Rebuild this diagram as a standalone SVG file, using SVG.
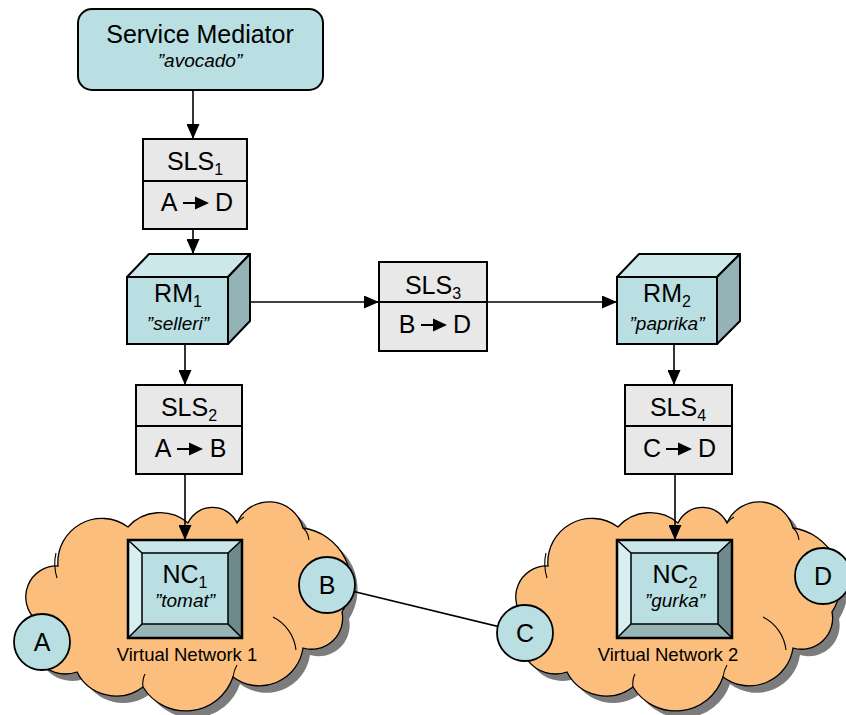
<svg xmlns="http://www.w3.org/2000/svg" width="846" height="715" viewBox="0 0 846 715">
<style>
text{font-family:"Liberation Sans",Arial,sans-serif;fill:#000}
.lbl{font-size:25px;text-anchor:middle}
.nm{font-size:19px;font-style:italic;text-anchor:middle}
.sub{font-size:16px}
.vn{font-size:18.5px;text-anchor:middle}
.box{fill:#e8e8e8;stroke:#000;stroke-width:2}
.cy{fill:#b9dfe2;stroke:#000;stroke-width:2}
.ctop{fill:#cce8eb;stroke:#000;stroke-width:2;stroke-linejoin:round}
.cside{fill:#93b3b6;stroke:#000;stroke-width:2;stroke-linejoin:round}
.conn{stroke:#000;stroke-width:1.6;fill:none}
.cloud{fill:#fbbe7d;stroke:#000;stroke-width:1.3}
.shadow{fill:#7c7c7c}
.crease{fill:none;stroke:#000;stroke-width:1.1}
.circ{fill:#b9dfe2;stroke:#000;stroke-width:1.8}
</style>
<defs>
<marker id="ah" viewBox="0 0 15 13" markerWidth="15" markerHeight="13" markerUnits="userSpaceOnUse" refX="15" refY="6.5" orient="auto">
<path d="M0,0 L15,6.5 L0,13 Z" fill="#000"/>
</marker>
<g id="sarrow"><line x1="-12" y1="0" x2="1" y2="0" stroke="#000" stroke-width="2"/><polygon points="0,-6.5 14,0 0,6.5" fill="#000"/></g>
<path id="cloudshape" d="M36,620 A31,31 0 0 1 58,566 A44,44 0 0 1 128,527 A43,43 0 0 1 188,523 A27,27 0 0 1 237,523 A35,35 0 0 1 303,528 A55,55 0 0 1 342,612 A31,31 0 0 1 303,648 A44,44 0 0 1 233,677 A50,50 0 0 1 143,687 A44,44 0 0 1 77,672 A35,35 0 0 1 36,620 Z"/>
<g id="creases">
<path d="M273,617 A42,42 0 0 1 296,650"/>
<path d="M56,553 Q53,565 57,578"/>
<path d="M303,528 Q308,532 309,540"/>
<path d="M233,677 Q234,670 237,665"/>
<path d="M143,687 Q142,680 145,674"/>
<path d="M237,523 Q240,519 244,517"/>
</g>
</defs>

<g id="cloud1">
<use href="#cloudshape" class="shadow" transform="translate(7,7)"/>
<use href="#cloudshape" class="cloud"/>
<use href="#creases" class="crease"/>
<text class="vn" x="187" y="661">Virtual Network 1</text>
</g>
<g id="cloud2">
<use href="#cloudshape" class="shadow" transform="translate(497,7)"/>
<use href="#cloudshape" class="cloud" transform="translate(490,0)"/>
<use href="#creases" class="crease" transform="translate(490,0)"/>
<text class="vn" x="668" y="661">Virtual Network 2</text>
</g>

<g id="connectors">
<line class="conn" x1="193" y1="90" x2="193" y2="139" marker-end="url(#ah)"/>
<line class="conn" x1="193" y1="229" x2="193" y2="254" marker-end="url(#ah)"/>
<line class="conn" x1="228" y1="302" x2="379" y2="302" marker-end="url(#ah)"/>
<line class="conn" x1="487" y1="302" x2="617" y2="302" marker-end="url(#ah)"/>
<line class="conn" x1="185" y1="344" x2="185" y2="385" marker-end="url(#ah)"/>
<line class="conn" x1="674" y1="344" x2="674" y2="385" marker-end="url(#ah)"/>
<line class="conn" x1="185" y1="474" x2="185" y2="540" marker-end="url(#ah)"/>
<line class="conn" x1="675" y1="474" x2="675" y2="540" marker-end="url(#ah)"/>
<line class="conn" x1="327" y1="585" x2="525" y2="633"/>
</g>

<g id="service-mediator">
<rect x="78" y="9" width="245" height="81" rx="14" class="cy"/>
<text class="lbl" x="200" y="43">Service Mediator</text>
<text class="nm" x="200" y="67">”avocado”</text>
</g>

<g id="sls1">
<rect class="box" x="143" y="139" width="104" height="90"/>
<line x1="143" y1="181" x2="247" y2="181" stroke="#000" stroke-width="2"/>
<text class="lbl" x="195" y="170">SLS<tspan class="sub" dy="5">1</tspan></text>
<text class="lbl" x="169" y="211">A</text>
<use href="#sarrow" x="195" y="203"/>
<text class="lbl" x="224" y="211">D</text>
</g>

<g id="rm1">
<polygon class="ctop" points="127,277 149,254 250,254 228,277"/>
<polygon class="cside" points="228,277 250,254 250,321 228,344"/>
<rect class="cy" x="127" y="277" width="101" height="67"/>
<text class="lbl" x="178" y="302">RM<tspan class="sub" dy="5">1</tspan></text>
<text class="nm" x="178" y="330">”selleri”</text>
</g>

<g id="sls3">
<rect class="box" x="379" y="262" width="108" height="89"/>
<line x1="379" y1="302" x2="487" y2="302" stroke="#000" stroke-width="2"/>
<text class="lbl" x="433" y="294">SLS<tspan class="sub" dy="5">3</tspan></text>
<text class="lbl" x="407" y="333">B</text>
<use href="#sarrow" x="433" y="325"/>
<text class="lbl" x="462" y="333">D</text>
</g>

<g id="rm2">
<polygon class="ctop" points="617,277 639,254 740,254 717,277"/>
<polygon class="cside" points="717,277 740,254 740,321 717,344"/>
<rect class="cy" x="617" y="277" width="100" height="67"/>
<text class="lbl" x="667" y="302">RM<tspan class="sub" dy="5">2</tspan></text>
<text class="nm" x="667" y="330">”paprika”</text>
</g>

<g id="sls2">
<rect class="box" x="136" y="385" width="106" height="89"/>
<line x1="136" y1="426" x2="242" y2="426" stroke="#000" stroke-width="2"/>
<text class="lbl" x="189" y="416">SLS<tspan class="sub" dy="5">2</tspan></text>
<text class="lbl" x="163" y="457">A</text>
<use href="#sarrow" x="189" y="449"/>
<text class="lbl" x="218" y="457">B</text>
</g>

<g id="sls4">
<rect class="box" x="625" y="385" width="107" height="89"/>
<line x1="625" y1="426" x2="732" y2="426" stroke="#000" stroke-width="2"/>
<text class="lbl" x="678" y="416">SLS<tspan class="sub" dy="5">4</tspan></text>
<text class="lbl" x="652" y="457">C</text>
<use href="#sarrow" x="678" y="449"/>
<text class="lbl" x="707" y="457">D</text>
</g>

<g id="nc1">
<polygon points="128,540 242,540 228,553 142,553" fill="#c9e6e9"/>
<polygon points="128,540 142,553 142,624 128,638" fill="#d8eef0"/>
<polygon points="242,540 242,638 228,624 228,553" fill="#6f8a8c"/>
<polygon points="128,638 142,624 228,624 242,638" fill="#97b4b6"/>
<rect x="142" y="553" width="86" height="71" fill="#b9dfe2" stroke="#000" stroke-width="1.5"/>
<path d="M128,540 L142,553 M242,540 L228,553 M128,638 L142,624 M242,638 L228,624" stroke="#000" stroke-width="1.5"/>
<rect x="128" y="540" width="114" height="98" fill="none" stroke="#000" stroke-width="2.5"/>
<text class="lbl" x="185" y="583">NC<tspan class="sub" dy="5">1</tspan></text>
<text class="nm" x="185" y="607">”tomat”</text>
</g>

<g id="nc2">
<polygon points="617,540 732,540 718,553 631,553" fill="#c9e6e9"/>
<polygon points="617,540 631,553 631,624 617,638" fill="#d8eef0"/>
<polygon points="732,540 732,638 718,624 718,553" fill="#6f8a8c"/>
<polygon points="617,638 631,624 718,624 732,638" fill="#97b4b6"/>
<rect x="631" y="553" width="87" height="71" fill="#b9dfe2" stroke="#000" stroke-width="1.5"/>
<path d="M617,540 L631,553 M732,540 L718,553 M617,638 L631,624 M732,638 L718,624" stroke="#000" stroke-width="1.5"/>
<rect x="617" y="540" width="115" height="98" fill="none" stroke="#000" stroke-width="2.5"/>
<text class="lbl" x="675" y="583">NC<tspan class="sub" dy="5">2</tspan></text>
<text class="nm" x="675" y="607">”gurka”</text>
</g>

<g id="node-a"><circle class="circ" cx="42" cy="642" r="28"/><text class="lbl" x="42" y="651">A</text></g>
<g id="node-b"><circle class="circ" cx="327" cy="585" r="28"/><text class="lbl" x="327" y="594">B</text></g>
<g id="node-c"><circle class="circ" cx="525" cy="633" r="28"/><text class="lbl" x="525" y="642">C</text></g>
<g id="node-d"><circle class="circ" cx="823" cy="576" r="28"/><text class="lbl" x="823" y="585">D</text></g>
</svg>
